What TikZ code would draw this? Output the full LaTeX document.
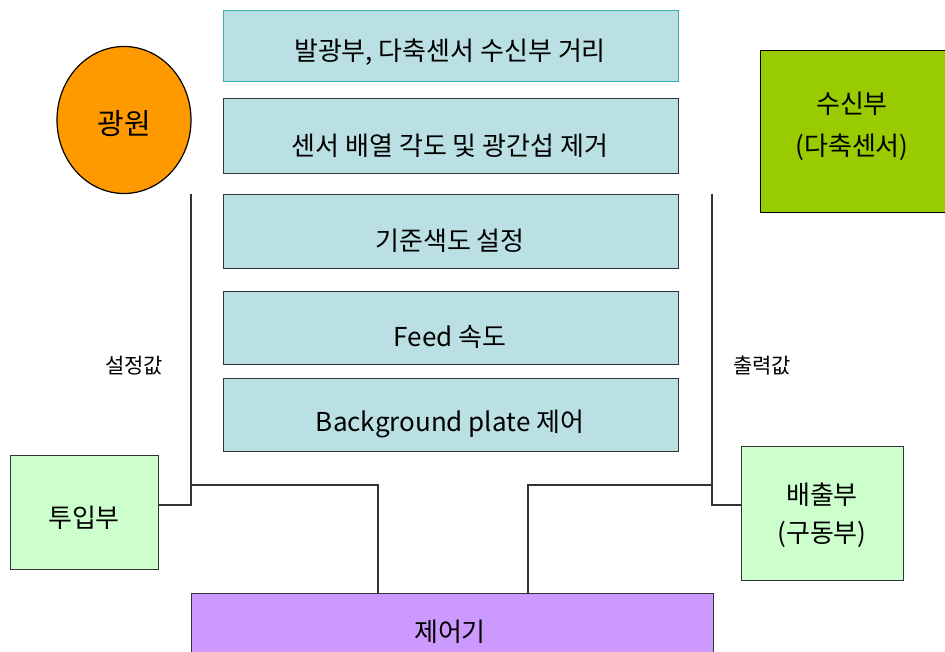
\documentclass[tikz,border=0pt]{standalone}
\usepackage{fontspec}
\setmainfont{Noto Sans CJK KR}
\usetikzlibrary{shapes.geometric}
\definecolor{boxfill}{HTML}{BBE0E3}
\definecolor{tealedge}{HTML}{3AAFAF}
\definecolor{orangefill}{HTML}{FF9900}
\definecolor{limefill}{HTML}{99CC00}
\definecolor{mintfill}{HTML}{CCFFCC}
\definecolor{violetfill}{HTML}{CC99FF}
\definecolor{edgegray}{HTML}{333333}
\begin{document}
\begin{tikzpicture}[x=1pt,y=-1pt,
  every node/.style={font=\fontsize{26}{30}\selectfont, inner sep=0pt},
  stepbox/.style={draw=edgegray, line width=1.3pt, fill=boxfill, rectangle, minimum width=455pt, anchor=north west},
  steptext/.style={anchor=center},
  sidebox/.style={draw=edgegray, line width=1.3pt, fill=mintfill, rectangle, anchor=north west},
  conn/.style={draw=edgegray, line width=1.2pt}]
\clip (0,0) rectangle (945,652);
\fill[white] (0,0) rectangle (945,652);
% step boxes
\node[stepbox, draw=tealedge, minimum height=71pt] (b1) at (223,10) {};
\node[stepbox, minimum height=75pt] (b2) at (223,98) {};
\node[stepbox, minimum height=74pt] (b3) at (223,194) {};
\node[stepbox, minimum height=73pt] (b4) at (223,291) {};
\node[stepbox, minimum height=73pt] (b5) at (223,378) {};
\node[steptext] (t1) at (450,52) {발광부, 다축센서 수신부 거리};
\node[steptext] (t2) at (450,146) {센서 배열 각도 및 광간섭 제거};
\node[steptext] (t3) at (450,241) {기준색도 설정};
\node[steptext] (t4) at (450,337) {Feed 속도};
\node[steptext] (t5) at (450,424) {Background plate 제어};
% light source
\node[ellipse, draw=black, line width=1.2pt, fill=orangefill, minimum width=134pt, minimum height=147pt] (src) at (124,120) {};
\node[font=\fontsize{29}{32}\selectfont] (srct) at (124,124) {광원};
% receiver
\node[draw=black, line width=1.3pt, fill=limefill, rectangle, anchor=north west, minimum width=190pt, minimum height=162pt] (rcv) at (760,50) {};
\node (rcvt) at (852,104) {수신부};
\node (rcvs) at (852,147) {(다축센서)};
% input / output
\node[sidebox, minimum width=148pt, minimum height=114pt] (inp) at (10,455) {};
\node (inpt) at (84,518) {투입부};
\node[sidebox, minimum width=162pt, minimum height=134pt] (outp) at (741,446) {};
\node (outt) at (822,495) {배출부};
\node (outs) at (822,534) {(구동부)};
% controller
\node[draw=edgegray, line width=1.3pt, fill=violetfill, rectangle, anchor=north west, minimum width=522pt, minimum height=90pt] (ctl) at (191,593) {};
\node (ctlt) at (450,632) {제어기};
% connector points
\coordinate (lt) at (191,194);
\coordinate (lj) at (191,505);
\coordinate (lm) at (191,485);
\coordinate (lc) at (378,485);
\coordinate (rt) at (712,194);
\coordinate (rj) at (712,505);
\coordinate (rm) at (712,485);
\coordinate (rc) at (528,485);
\draw[conn] (lt) -- (lj) -- (inp.east |- lj);
\draw[conn] (lm) -- (lc) -- (lc |- ctl.north);
\draw[conn] (rt) -- (rj) -- (outp.west |- rj);
\draw[conn] (rm) -- (rc) -- (rc |- ctl.north);
% labels
\node[font=\fontsize{21}{24}\selectfont] (set) at (134,366) {설정값};
\node[font=\fontsize{21}{24}\selectfont] (outv) at (762,366) {출력값};
\end{tikzpicture}
\end{document}
